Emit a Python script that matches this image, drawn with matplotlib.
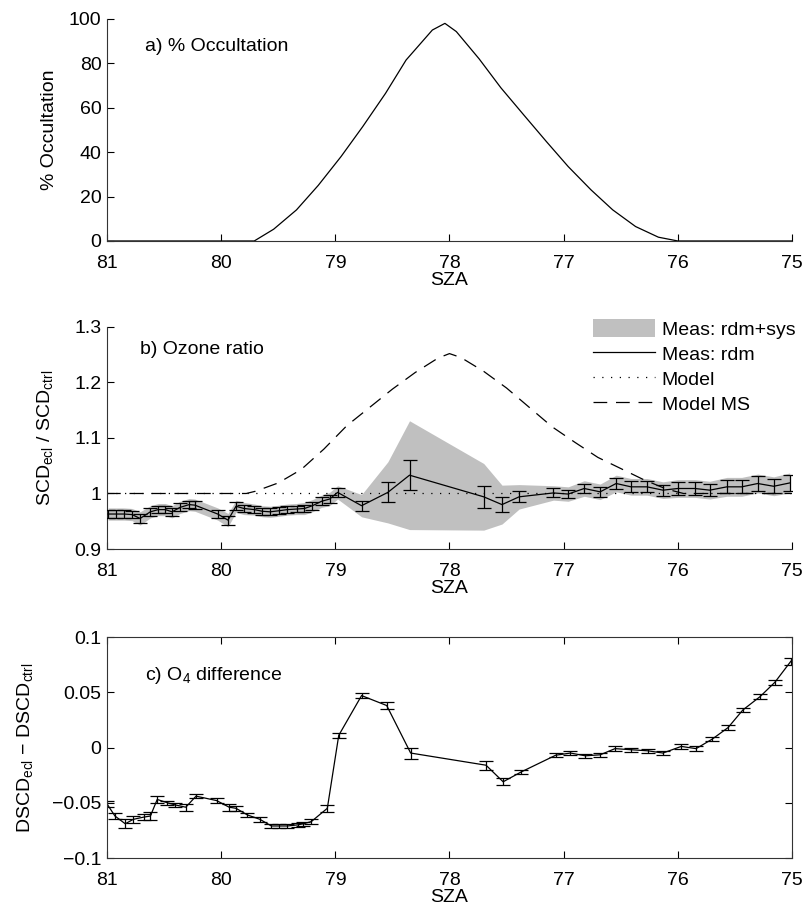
import numpy as np
import matplotlib
matplotlib.use("Agg")
import matplotlib.pyplot as plt
from matplotlib.patches import Patch
from matplotlib.lines import Line2D

plt.rcParams['font.family'] = ['Liberation Sans', 'DejaVu Sans']
plt.rcParams['font.size'] = 14
plt.rcParams['mathtext.fontset'] = 'custom'
plt.rcParams['mathtext.rm'] = 'Liberation Sans'
plt.rcParams['mathtext.it'] = 'Liberation Sans'

# a) eclipse occultation vs solar zenith angle
sza_a = [81.0, 79.71, 79.54, 79.34, 79.15, 78.95, 78.76, 78.56, 78.38, 78.15, 78.04,
         77.94, 77.74, 77.55, 77.35, 77.15, 76.96, 76.76, 76.57, 76.37, 76.17, 76.0, 75.0]
occ = [0, 0, 5.3, 14, 25, 38, 51.5, 66.5, 81.5, 95, 98,
       94.3, 82, 69, 56.8, 44.7, 33.5, 23, 14, 6.5, 1.7, 0, 0]

# b) ozone SCD ratio, eclipse / control
sza_b = [80.99, 80.92, 80.85, 80.78, 80.71, 80.62, 80.55, 80.49, 80.43, 80.36, 80.28, 80.23,
         80.03, 79.94, 79.87, 79.80, 79.71, 79.64, 79.57, 79.49, 79.42, 79.34, 79.27, 79.20,
         79.12, 79.05, 78.98, 78.77, 78.54, 78.35, 77.70, 77.54, 77.39, 77.09, 76.96, 76.82,
         76.68, 76.54, 76.41, 76.27, 76.13, 76.0, 75.85, 75.72, 75.57, 75.44, 75.30, 75.16, 75.02]
ratio = [0.963, 0.963, 0.963, 0.962, 0.955, 0.967, 0.971, 0.971, 0.967, 0.975, 0.980, 0.979,
         0.963, 0.952, 0.977, 0.973, 0.971, 0.968, 0.967, 0.969, 0.971, 0.972, 0.973, 0.978,
         0.986, 0.990, 1.002, 0.978, 1.002, 1.033, 0.994, 0.980, 0.994, 1.001, 0.999, 1.009,
         1.003, 1.018, 1.012, 1.012, 1.006, 1.009, 1.009, 1.006, 1.012, 1.012, 1.018, 1.013, 1.019]
err_rdm = [0.007, 0.007, 0.007, 0.007, 0.008, 0.007, 0.007, 0.007, 0.007, 0.007, 0.007, 0.007,
           0.007, 0.008, 0.007, 0.007, 0.006, 0.006, 0.006, 0.006, 0.006, 0.006, 0.007, 0.007,
           0.007, 0.008, 0.008, 0.009, 0.018, 0.027, 0.020, 0.013, 0.010, 0.008, 0.008, 0.009,
           0.009, 0.010, 0.010, 0.010, 0.010, 0.011, 0.011, 0.011, 0.012, 0.012, 0.013, 0.013, 0.014]
err_tot = [0.011, 0.011, 0.011, 0.011, 0.012, 0.011, 0.011, 0.011, 0.011, 0.011, 0.011, 0.011,
           0.011, 0.012, 0.011, 0.011, 0.010, 0.010, 0.010, 0.010, 0.010, 0.010, 0.011, 0.011,
           0.011, 0.012, 0.012, 0.020, 0.055, 0.098, 0.060, 0.035, 0.022, 0.013, 0.013, 0.014,
           0.014, 0.015, 0.015, 0.015, 0.015, 0.016, 0.016, 0.016, 0.017, 0.017, 0.017, 0.017, 0.018]

sza_model = [81.0, 75.0]
model = [1.0, 1.0]
sza_ms = [81.0, 79.78, 79.7, 79.5, 79.3, 79.1, 78.9, 78.7, 78.5, 78.3, 78.1, 78.0,
          77.9, 77.7, 77.5, 77.3, 77.1, 76.9, 76.7, 76.5, 76.3, 76.1, 75.95, 75.0]
model_ms = [1.0, 1.0, 1.004, 1.019, 1.043, 1.080, 1.122, 1.155, 1.188, 1.218, 1.244, 1.252,
            1.245, 1.22, 1.19, 1.155, 1.12, 1.092, 1.065, 1.045, 1.025, 1.008, 1.0, 1.0]

# c) O4 DSCD difference
sza_c = [81.0, 80.93, 80.84, 80.77, 80.68, 80.62, 80.56, 80.47, 80.40, 80.31, 80.22, 80.04,
         79.93, 79.87, 79.77, 79.66, 79.56, 79.49, 79.42, 79.33, 79.28, 79.21, 79.07, 78.97,
         78.77, 78.55, 78.34, 77.68, 77.53, 77.37, 77.07, 76.94, 76.81, 76.68, 76.55, 76.41,
         76.26, 76.13, 75.97, 75.84, 75.70, 75.56, 75.43, 75.28, 75.15, 75.01]
o4 = [-0.051, -0.062, -0.069, -0.065, -0.063, -0.062, -0.047, -0.050, -0.052, -0.054, -0.044, -0.048,
      -0.054, -0.055, -0.061, -0.065, -0.071, -0.071, -0.071, -0.070, -0.069, -0.067, -0.055, 0.011,
      0.047, 0.038, -0.005, -0.016, -0.031, -0.022, -0.007, -0.005, -0.0075, -0.0066, -0.001, -0.002,
      -0.003, -0.005, 0.001, -0.001, 0.0075, 0.018, 0.034, 0.046, 0.059, 0.078]
o4_err = [0.003, 0.003, 0.004, 0.003, 0.003, 0.004, 0.003, 0.002, 0.002, 0.003, 0.002, 0.002,
          0.003, 0.002, 0.002, 0.002, 0.002, 0.002, 0.002, 0.002, 0.002, 0.002, 0.003, 0.002,
          0.002, 0.003, 0.005, 0.004, 0.003, 0.002, 0.002, 0.002, 0.002, 0.002, 0.002, 0.002,
          0.002, 0.002, 0.002, 0.002, 0.002, 0.002, 0.002, 0.002, 0.002, 0.003]

xticks = [81, 80, 79, 78, 77, 76, 75]

fig = plt.figure(figsize=(8.02, 9.10), dpi=100)
ax1 = fig.add_axes([0.1334, 0.7352, 0.8541, 0.2440])
ax2 = fig.add_axes([0.1334, 0.3967, 0.8541, 0.2440])
ax3 = fig.add_axes([0.1334, 0.0571, 0.8541, 0.2429])

for ax in (ax1, ax2, ax3):
    ax.set_xlim(81, 75)
    ax.set_xticks(xticks)
    ax.set_xticklabels([str(t) for t in xticks])
    ax.set_xlabel("SZA", labelpad=0)
    ax.tick_params(direction='in', length=5, width=0.8, pad=4)
    ax.tick_params(axis='x', pad=10)
    for s in ax.spines.values():
        s.set_color('#333333')

for ax in (ax1, ax2):
    ax.spines['top'].set_visible(False)
    ax.spines['right'].set_visible(False)

# panel a
ax1.plot(sza_a, occ, color='black', lw=0.9)
ax1.set_ylim(0, 100)
ax1.set_yticks([0, 20, 40, 60, 80, 100])
ax1.set_ylabel("% Occultation", labelpad=8)
ax1.text(0.055, 0.878, "a) % Occultation", transform=ax1.transAxes, va='center', ha='left')

# panel b
rb = np.array(ratio)
tb = np.array(err_tot)
ax2.fill_between(sza_b, rb - tb, rb + tb, color='#c0c0c0', lw=0, zorder=1)
ax2.plot(sza_model, model, color='black', lw=0.9, dashes=(1, 6), zorder=2)
ax2.plot(sza_ms, model_ms, color='black', lw=0.9, dashes=(11, 7), zorder=2)
ax2.errorbar(sza_b, ratio, yerr=err_rdm, color='black', lw=0.9, elinewidth=0.9,
             capsize=5, capthick=0.9, zorder=3)
ax2.set_ylim(0.9, 1.3)
ax2.set_yticks([0.9, 1.0, 1.1, 1.2, 1.3])
ax2.set_yticklabels(["0.9", "1", "1.1", "1.2", "1.3"])
ax2.set_ylabel(r"SCD$_{\rm ecl}$ / SCD$_{\rm ctrl}$", labelpad=14)
ax2.text(0.048, 0.90, "b) Ozone ratio", transform=ax2.transAxes, va='center', ha='left')

handles = [Patch(facecolor='#c0c0c0', edgecolor='none'),
           Line2D([], [], color='black', lw=0.9),
           Line2D([], [], color='black', lw=0.9, dashes=(1, 6)),
           Line2D([], [], color='black', lw=0.9, dashes=(11, 7))]
labels = ["Meas: rdm+sys", "Meas: rdm", "Model", "Model MS"]
ax2.legend(handles, labels, loc='upper left', bbox_to_anchor=(0.709, 1.035),
           frameon=False, borderpad=0, borderaxespad=0, handlelength=3.2,
           handletextpad=0.35, handleheight=1.0, labelspacing=0.3)

# panel c
ax3.errorbar(sza_c, o4, yerr=o4_err, color='black', lw=0.9, elinewidth=0.9,
             capsize=5, capthick=0.9)
ax3.set_ylim(-0.1, 0.1)
ax3.set_yticks([-0.1, -0.05, 0, 0.05, 0.1])
ax3.set_yticklabels(["\u22120.1", "\u22120.05", "0", "0.05", "0.1"])
ax3.set_ylabel(r"DSCD$_{\rm ecl}$ $-$ DSCD$_{\rm ctrl}$", labelpad=12)
ax3.tick_params(top=True, right=True)
ax3.text(0.055, 0.828, r"c) O$_4$ difference", transform=ax3.transAxes, va='center', ha='left')

fig.savefig("out.png", dpi=100)
